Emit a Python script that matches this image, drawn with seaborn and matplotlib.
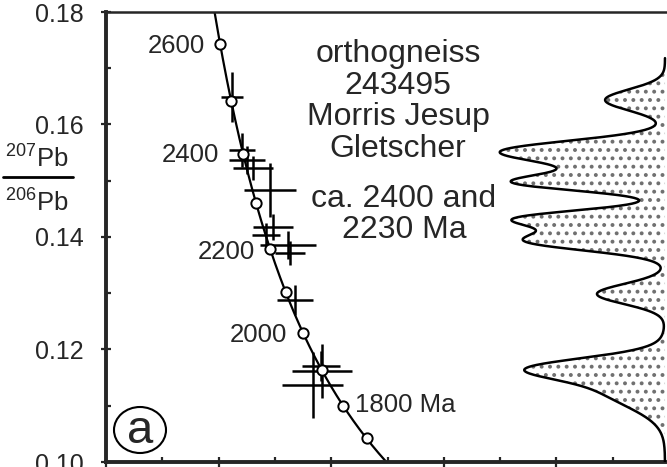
import numpy as np
import pandas as pd
import matplotlib
matplotlib.use("Agg")
import matplotlib.pyplot as plt
import seaborn as sns
from matplotlib.patches import Ellipse
from matplotlib.lines import Line2D
from matplotlib.ticker import MultipleLocator, FormatStrFormatter

# --- U-Pb constants -------------------------------------------------------
LAMBDA_238 = 1.55125e-10   # 1/yr
LAMBDA_235 = 9.8485e-10    # 1/yr
U238_U235 = 137.88

# --- zircon analyses (Tera-Wasserburg), 2-sigma errors --------------------
u238_pb206 = [2.119, 2.208, 2.252, 2.305, 2.456, 2.483, 2.421, 2.616, 2.634,
              2.678, 2.918, 2.838, 2.909]
u238_pb206_err = [0.098, 0.115, 0.160, 0.178, 0.231, 0.178, 0.124, 0.249,
                  0.133, 0.160, 0.266, 0.271, 0.169]
pb207_pb206 = [0.1649, 0.1555, 0.1537, 0.1523, 0.1484, 0.1418, 0.1404,
               0.1386, 0.1372, 0.1288, 0.1162, 0.1137, 0.1171]
pb207_pb206_err = [0.0044, 0.0030, 0.0025, 0.0021, 0.0048, 0.0023, 0.0021,
                   0.0025, 0.0021, 0.0027, 0.0048, 0.0058, 0.0027]

# --- concordia age marks (Ma) and their labels ----------------------------
concordia_ages = [2600, 2500, 2400, 2300, 2200, 2100, 2000, 1900, 1800, 1700]
label_ages = [2600, 2400, 2200, 2000, 1800]
label_texts = ["2600", "2400", "2200", "2000", "1800 Ma"]

# --- probability-density peaks of 207Pb/206Pb ------------------------------
pdf_centre = [0.16436, 0.15547, 0.15262, 0.14960, 0.14338, 0.14124, 0.13911,
              0.12987, 0.11671, 0.11351]
pdf_spread = [0.00187, 0.00178, 0.00213, 0.00142, 0.00142, 0.00213, 0.00160,
              0.00178, 0.00178, 0.00356]
pdf_height = [0.37, 0.85, 0.37, 0.80, 0.74, 0.28, 0.68, 0.42, 0.59, 0.40]

y_ticks_major = [0.10, 0.12, 0.14, 0.16, 0.18]


def tera_wasserburg(age_ma):
    t = np.asarray(age_ma, dtype=float) * 1e6
    e8 = np.exp(LAMBDA_238 * t) - 1.0
    e5 = np.exp(LAMBDA_235 * t) - 1.0
    return 1.0 / e8, e5 / e8 / U238_U235


sns.set_style("ticks")
plt.rcParams["font.family"] = ["Liberation Sans", "DejaVu Sans"]
plt.rcParams["mathtext.fontset"] = "custom"
plt.rcParams["mathtext.rm"] = "Liberation Sans"
plt.rcParams["mathtext.it"] = "Liberation Sans"
plt.rcParams["hatch.linewidth"] = 1.6

W, H = 667, 467
fig = plt.figure(figsize=(W / 100, H / 100), dpi=100)


def fx(px):
    return px / W


def fy(py):
    return 1 - py / H


ax = fig.add_axes([fx(106), fy(462), fx(667) - fx(106), fy(12) - fy(462)])
ax.set_xlim(1.0, 5.982)
ax.set_ylim(0.10, 0.18)

# concordia curve
ages_curve = np.linspace(1550, 2800, 400)
cx, cy = tera_wasserburg(ages_curve)
curve = pd.DataFrame({"u238_pb206": cx, "pb207_pb206": cy})
sns.lineplot(data=curve, x="u238_pb206", y="pb207_pb206", sort=False,
             color="black", linewidth=1.6, ax=ax, zorder=2)

# error crosses of the analyses
ax.errorbar(u238_pb206, pb207_pb206, xerr=u238_pb206_err, yerr=pb207_pb206_err,
            fmt="none", ecolor="black", elinewidth=1.8, capsize=0, zorder=3)

# age marks on concordia
mx, my = tera_wasserburg(concordia_ages)
sns.scatterplot(x=mx, y=my, s=55, color="white", edgecolor="black",
                linewidth=1.4, zorder=5, ax=ax, legend=False)

label_offsets = {2600: (-15, -9, "right"), 2400: (-24, -8, "right"),
                 2200: (-15, -10, "right"), 2000: (-16, -9, "right"),
                 1800: (12, -6, "left")}
lx, ly = tera_wasserburg(label_ages)
for age, txt, x0, y0 in zip(label_ages, label_texts, lx, ly):
    dx, dy, ha = label_offsets[age]
    ax.annotate(txt, xy=(x0, y0), xytext=(dx, dy), textcoords="offset pixels",
                ha=ha, va="baseline", fontsize=18.5)

# axes styling
for side in ("left", "bottom"):
    ax.spines[side].set_linewidth(2.8)
ax.spines["top"].set_linewidth(1.8)
ax.spines["right"].set_visible(False)
ax.xaxis.set_major_locator(MultipleLocator(1.0))
ax.xaxis.set_minor_locator(MultipleLocator(0.5))
ax.yaxis.set_major_locator(MultipleLocator(0.02))
ax.yaxis.set_minor_locator(MultipleLocator(0.01))
ax.yaxis.set_major_formatter(FormatStrFormatter("%.2f"))
ax.set_yticks(y_ticks_major)
ax.tick_params(which="major", direction="inout", length=7.5, width=1.6,
               labelsize=18, pad=12)
ax.tick_params(which="minor", direction="in", length=3.5, width=1.6)
ax.tick_params(axis="x", which="both", top=False, labelbottom=False)
ax.tick_params(axis="y", which="both", right=False)
ax.set_xlabel("")
ax.set_ylabel("")

# probability density of 207Pb/206Pb, growing leftward from the right edge
ratio = np.linspace(0.10, 0.1718, 900)
density = np.zeros_like(ratio)
for c, s, h in zip(pdf_centre, pdf_spread, pdf_height):
    density += h * np.exp(-0.5 * ((ratio - c) / s) ** 2)

ax2 = ax.twiny()
ax2.set_xlim(3.451, -0.0123)
ax2.set_ylim(0.10, 0.18)
ax2.set_axis_off()
ax2.fill_betweenx(ratio, 0, density, facecolor="white", edgecolor="#707070",
                  hatch="..", linewidth=0, zorder=1)
sns.lineplot(x=density, y=ratio, sort=False, orient="y", color="black",
             linewidth=1.8, ax=ax2, zorder=2)

# sample annotation
for txt, py in [("orthogneiss", 62), ("243495", 94), ("Morris Jesup", 125),
                ("Gletscher", 157)]:
    fig.text(fx(398), fy(py), txt, ha="center", va="baseline", fontsize=23)
for txt, py in [("ca. 2400 and", 207), ("2230 Ma", 238)]:
    fig.text(fx(404), fy(py), txt, ha="center", va="baseline", fontsize=23)

# y-axis label as a stacked ratio
fig.text(fx(37), fy(168), r"$^{207}$Pb", ha="center", va="baseline", fontsize=18.5)
fig.text(fx(37), fy(212), r"$^{206}$Pb", ha="center", va="baseline", fontsize=18.5)
fig.add_artist(Line2D([fx(3), fx(73)], [fy(177), fy(177)], color="black",
                      linewidth=2.0, transform=fig.transFigure))

# panel tag
fig.add_artist(Ellipse((fx(140), fy(430)), 52 / W, 46 / H, transform=fig.transFigure,
                       fill=False, edgecolor="black", linewidth=1.5))
fig.text(fx(140), fy(443), "a", ha="center", va="baseline", fontsize=34)

fig.savefig("out.png", dpi=100)
